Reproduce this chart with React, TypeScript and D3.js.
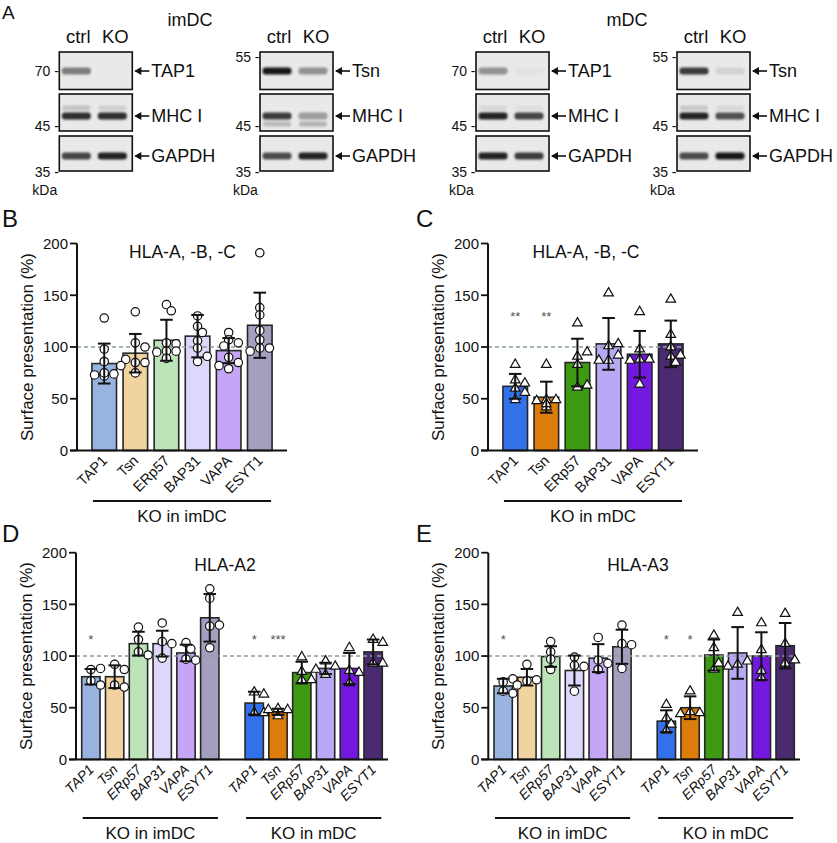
import React from "react";
import * as d3 from "d3";

const FONT = "'Liberation Sans', Arial, Helvetica, sans-serif";

// ---------- data ----------
const categories = ["TAP1", "Tsn", "ERp57", "BAP31", "VAPA", "ESYT1"];
const imdcColors = ["#99b3e1", "#f1d39f", "#bde3b8", "#ddd8fb", "#c5a5f6", "#a59fbf"];
const mdcColors = ["#3371eb", "#dc7d0b", "#3f9a13", "#b9a9f4", "#7318e0", "#4a2a71"];
const yTicks = [0, 50, 100, 150, 200];
const refLevel = 100;

// Panel B (HLA-A,-B,-C, imDC)
const bMean = [84, 94, 106.5, 110.5, 96.5, 121];
const bSD = [19.3, 18.6, 19.8, 20.5, 12.1, 31.5];
const bPoints = [
  [128, 98, 86, 74, 74, 73, 72, 75],
  [134, 104, 100, 85, 85, 88, 75, 82],
  [141, 135, 104, 103, 96, 96, 95, 89],
  [130, 120, 114, 106, 99, 86, 91],
  [114, 107, 104, 101, 90, 85, 79, 82],
  [191, 138, 131, 116, 107, 99, 99, 96],
];

// Panel C (HLA-A,-B,-C, mDC)
const cMean = [62, 51.5, 85, 103, 93, 103];
const cSD = [12, 15, 23, 25, 22.5, 22.5];
const cPoints = [
  [83, 68, 65, 60, 49, 56],
  [83, 49, 49, 48, 42, 45],
  [123, 91, 95, 83, 61, 63],
  [152, 101, 103, 87, 92, 87],
  [134, 98, 88, 88, 87, 64],
  [146, 112, 100, 91, 92, 85],
];
const cStars = ["**", "**", "", "", "", ""];

// Panel D (HLA-A2)
const dImMean = [80, 80, 112, 112, 103, 137];
const dImSD = [7.5, 11, 11.5, 12.5, 8, 23];
const dImPoints = [
  [87, 88, 76, 72],
  [92, 87, 72, 70],
  [128, 116, 104, 101],
  [132, 114, 112, 98],
  [113, 107, 97, 96],
  [165, 156, 129, 130, 108],
];
const dMMean = [54.5, 46, 84, 88, 88, 104];
const dMSD = [11, 3, 10.5, 5.5, 15, 12];
const dMPoints = [
  [65, 63, 45, 45],
  [49, 48, 48, 42],
  [99, 85, 77, 77],
  [95, 90, 82, 87],
  [108, 86, 74, 84],
  [116, 113, 93, 93],
];
const dImStars = ["*", "", "", "", "", ""];
const dMStars = ["*", "***", "", "", "", ""];

// Panel E (HLA-A3)
const eImMean = [71, 79.5, 99.5, 86, 98, 109];
const eImSD = [7, 8, 10, 14.5, 13.5, 16.5];
const eImPoints = [
  [66, 75, 78, 64],
  [92, 76, 77, 72],
  [114, 104, 97, 87],
  [99, 91, 90, 66],
  [118, 96, 93, 87],
  [130, 112, 111, 88],
];
const eMMean = [37, 50, 101, 103, 100, 110];
const eMSD = [10.5, 11, 15, 25, 23, 22];
const eMPoints = [
  [53, 40, 34, 28],
  [66, 46, 45, 44],
  [120, 108, 87, 93],
  [142, 92, 95, 90],
  [132, 106, 79, 86],
  [141, 112, 93, 96],
];
const eImStars = ["*", "", "", "", "", ""];
const eMStars = ["*", "*", "", "", "", ""];

// Panel A (western blots): darkness of each band [ctrl, KO] per row
const blotTargets = ["TAP1", "Tsn", "TAP1", "Tsn"];
const blotRowNames = ["", "MHC I", "GAPDH"];
const blotTopMarker = ["70", "55", "70", "55"];
const blotBands = [
  [[0.5, 0], [0.85, 0.85], [0.75, 0.9]],
  [[0.97, 0.4], [0.8, 0.35], [0.72, 0.9]],
  [[0.4, 0.03], [0.9, 0.75], [0.92, 0.78]],
  [[0.8, 0.1], [0.9, 0.7], [0.72, 0.97]],
];
const blotFaint = [
  [0.18, 0.12, -1],
  [0.22, 0.25, 1],
  [0.08, 0.05, -1],
  [0.15, 0.08, -1],
];
const blotCell = ["imDC", "mDC"];

// ---------- helpers ----------
function swarm(vals: number[], cx: number, y: (v: number) => number, r: number) {
  const placed: { x: number; y: number }[] = [];
  const order = [0, 1, -1, 2, -2, 3, -3];
  vals.forEach((v) => {
    const py = y(v);
    let px = cx;
    for (const k of order) {
      const cand = cx + k * r * 1.15;
      const ok = placed.every((p) => (p.x - cand) ** 2 + (p.y - py) ** 2 >= (2 * r * 0.85) ** 2);
      if (ok) {
        px = cand;
        break;
      }
    }
    placed.push({ x: px, y: py });
  });
  return placed;
}

const triPath = d3.symbol().type(d3.symbolTriangle).size(40)() as string;

type Group = {
  key: string;
  means: number[];
  sds: number[];
  points: number[][];
  colors: string[];
  marker: "circle" | "triangle";
  stars?: string[];
  label: string;
};

function BarPanel(props: {
  x0: number;
  x1: number;
  yTop: number;
  yBot: number;
  groups: Group[];
  title: string;
  titleX: number;
  titleY: number;
  yLabelX: number;
  starValue: number;
  italic: boolean;
  labelSize: number;
}) {
  const { x0, x1, yTop, yBot, groups, title, titleX, titleY, yLabelX, starValue, italic, labelSize } = props;
  const two = groups.length > 1;
  const y = d3.scaleLinear().domain([0, 200]).range([yBot, yTop]);
  const outer = d3
    .scaleBand<string>()
    .domain(groups.map((g) => g.key))
    .range([x0, x1])
    .paddingInner(two ? 0.16 : 0)
    .paddingOuter(two ? 0.035 : 0);
  const inner = d3
    .scaleBand<string>()
    .domain(categories)
    .range([0, outer.bandwidth()])
    .paddingInner(two ? 0.23 : 0.21)
    .paddingOuter(two ? 0 : 0.48);
  const bw = inner.bandwidth();
  const lastGroup = groups[groups.length - 1];
  const dashEnd = (outer(lastGroup.key) as number) + (inner(categories[5]) as number) + bw;
  const lineY = yBot + (two ? 58.6 : 50.5);
  return (
    <g fontFamily={FONT}>
      {groups.map((g) =>
        categories.map((c, i) => {
          const bx = (outer(g.key) as number) + (inner(c) as number);
          return (
            <rect
              key={g.key + c}
              x={bx}
              y={y(g.means[i])}
              width={bw}
              height={yBot - y(g.means[i])}
              fill={g.colors[i]}
              stroke="#262626"
              strokeWidth={1.6}
            />
          );
        })
      )}
      <line x1={x0} x2={dashEnd} y1={y(refLevel)} y2={y(refLevel)} stroke="#86a096" strokeWidth={1.4} strokeDasharray="4,3" />
      {groups.map((g) =>
        categories.map((c, i) => {
          const cx = (outer(g.key) as number) + (inner(c) as number) + bw / 2;
          const pts = swarm(g.points[i], cx, y, 4.2);
          return pts.map((p, j) =>
            g.marker === "circle" ? (
              <circle key={g.key + c + j} cx={p.x} cy={p.y} r={4.2} fill="#fff" stroke="#111" strokeWidth={1.2} />
            ) : (
              <path key={g.key + c + j} d={triPath} transform={`translate(${p.x},${p.y})`} fill="#fff" stroke="#111" strokeWidth={1.2} />
            )
          );
        })
      )}
      {groups.map((g) =>
        categories.map((c, i) => {
          const cx = (outer(g.key) as number) + (inner(c) as number) + bw / 2;
          const hi = y(g.means[i] + g.sds[i]);
          const lo = y(g.means[i] - g.sds[i]);
          const cw = 6.3;
          return (
            <g key={g.key + c + "e"} stroke="#111" strokeWidth={2}>
              <line x1={cx} x2={cx} y1={hi} y2={lo} />
              <line x1={cx - cw} x2={cx + cw} y1={hi} y2={hi} />
              <line x1={cx - cw} x2={cx + cw} y1={lo} y2={lo} />
            </g>
          );
        })
      )}
      {groups.map((g) =>
        (g.stars || []).map((s, i) =>
          s ? (
            <text
              key={g.key + "s" + i}
              x={(outer(g.key) as number) + (inner(categories[i]) as number) + bw / 2}
              y={y(starValue) + 6}
              textAnchor="middle"
              fontSize={13}
              fill="#555"
            >
              {s}
            </text>
          ) : null
        )
      )}
      <line x1={x0} x2={x0} y1={yTop} y2={yBot} stroke="#111" strokeWidth={2} />
      <line x1={x0 - 7} x2={x1} y1={yBot} y2={yBot} stroke="#111" strokeWidth={2} />
      {yTicks.map((t) => (
        <g key={t}>
          <line x1={x0 - 7} x2={x0} y1={y(t)} y2={y(t)} stroke="#111" strokeWidth={1.8} />
          <text x={x0 - 9} y={y(t)} dy="0.35em" textAnchor="end" fontSize={15} fill="#111">
            {t}
          </text>
        </g>
      ))}
      <text
        transform={`translate(${yLabelX},${(yTop + yBot) / 2}) rotate(-90)`}
        textAnchor="middle"
        fontSize={17}
        fill="#111"
      >
        Surface presentation (%)
      </text>
      <text x={titleX} y={titleY} textAnchor="middle" fontSize={17.5} fill="#111">
        {title}
      </text>
      {groups.map((g) =>
        categories.map((c) => {
          const cx = (outer(g.key) as number) + (inner(c) as number) + bw / 2;
          return (
            <text
              key={g.key + c + "l"}
              transform={`translate(${cx + 4},${yBot + 11}) rotate(-45)`}
              textAnchor="end"
              fontSize={labelSize}
              fontStyle={italic ? "italic" : "normal"}
              fill="#111"
            >
              {c}
            </text>
          );
        })
      )}
      {groups.map((g) => {
        const gx = outer(g.key) as number;
        const s = gx + (inner(categories[0]) as number) + 1;
        const e = gx + (inner(categories[5]) as number) + bw - 1;
        return (
          <g key={g.key + "gl"}>
            <line x1={s} x2={e} y1={lineY} y2={lineY} stroke="#111" strokeWidth={1.8} />
            <text x={(s + e) / 2} y={lineY + 21} textAnchor="middle" fontSize={17} fill="#111">
              {g.label}
            </text>
          </g>
        );
      })}
    </g>
  );
}

function Blot(props: { idx: number; left: number }) {
  const { idx, left } = props;
  const w = 73;
  const rowTop = [52, 94, 136];
  const rowH = [37.5, 37, 35];
  const bandY = [71, 116, 156];
  const lanes = [left + 17, left + 53];
  const shade = d3.interpolateRgb("#e9e9e9", "#0e0e0e");
  const names = [blotTargets[idx], blotRowNames[1], blotRowNames[2]];
  const faint = blotFaint[idx];
  return (
    <g fontFamily={FONT}>
      <text x={left + 19} y={43} textAnchor="middle" fontSize={18.5} fill="#111">
        ctrl
      </text>
      <text x={left + 56} y={43} textAnchor="middle" fontSize={18.5} fill="#111">
        KO
      </text>
      {rowTop.map((t, r) => (
        <g key={r}>
          <rect x={left} y={t} width={w} height={rowH[r]} fill="#e9e9e9" />
          {r === 1 &&
            lanes.map((lx, l) => (
              <rect
                key={"f" + l}
                x={lx - 14}
                y={bandY[1] + faint[2] * 8 - 2.5}
                width={28}
                height={5}
                rx={2}
                fill={shade(faint[l])}
                filter="url(#blur)"
              />
            ))}
          {lanes.map((lx, l) => (
            <rect
              key={l}
              x={lx - 14.5}
              y={bandY[r] - 3.5}
              width={29}
              height={7}
              rx={3}
              fill={shade(blotBands[idx][r][l])}
              filter="url(#blur)"
            />
          ))}
          <rect x={left} y={t} width={w} height={rowH[r]} fill="none" stroke="#111" strokeWidth={1.6} />
          <line x1={left + w + 3} x2={left + w + 17} y1={bandY[r]} y2={bandY[r]} stroke="#111" strokeWidth={1.6} />
          <path
            d={`M${left + w + 2},${bandY[r]} L${left + w + 9},${bandY[r] - 4} L${left + w + 9},${bandY[r] + 4} Z`}
            fill="#111"
          />
          <text x={left + w + 19} y={bandY[r]} dy="0.36em" fontSize={18} fill="#111">
            {names[r]}
          </text>
        </g>
      ))}
      {blotTopMarker[idx] === "70" ? (
        <text x={left - 0.5} y={bandY[0]} dy="0.36em" textAnchor="end" fontSize={14} fill="#111">
          70 -
        </text>
      ) : (
        <text x={left - 0.5} y={57} dy="0.36em" textAnchor="end" fontSize={14} fill="#111">
          55 -
        </text>
      )}
      <text x={left - 0.5} y={126} dy="0.36em" textAnchor="end" fontSize={14} fill="#111">
        45 -
      </text>
      <text x={left - 0.5} y={172} dy="0.36em" textAnchor="end" fontSize={14} fill="#111">
        35 -
      </text>
      <text x={left - 27} y={195} fontSize={14} fill="#111">
        kDa
      </text>
    </g>
  );
}

export default function App() {
  const blotLefts = [59.3, 260, 476, 677];
  return (
    <svg
      width={837}
      height={843}
      style={{ position: "absolute", left: 0, top: 0, background: "#fff" }}
      fontFamily={FONT}
    >
      <defs>
        <filter id="blur" x="-30%" y="-80%" width="160%" height="260%">
          <feGaussianBlur stdDeviation="1.1" />
        </filter>
      </defs>
      <rect width={837} height={843} fill="#fff" />
      <text x={2} y={19} fontSize={19} fill="#111">A</text>
      <text x={2} y={227} fontSize={24} fill="#111">B</text>
      <text x={416} y={227} fontSize={24} fill="#111">C</text>
      <text x={2} y={542} fontSize={24} fill="#111">D</text>
      <text x={416} y={542} fontSize={24} fill="#111">E</text>

      <text x={190} y={26} textAnchor="middle" fontSize={18} fill="#111">{blotCell[0]}</text>
      <text x={627} y={26} textAnchor="middle" fontSize={18} fill="#111">{blotCell[1]}</text>
      {blotLefts.map((l, i) => (
        <Blot key={i} idx={i} left={l} />
      ))}

      <BarPanel
        x0={77}
        x1={287}
        yTop={243.5}
        yBot={450.5}
        groups={[
          { key: "im", means: bMean, sds: bSD, points: bPoints, colors: imdcColors, marker: "circle", label: "KO in imDC" },
        ]}
        title="HLA-A, -B, -C"
        titleX={182.5}
        titleY={257.5}
        yLabelX={33}
        starValue={131}
        italic={false}
        labelSize={14.5}
      />
      <BarPanel
        x0={488}
        x1={698}
        yTop={243.5}
        yBot={450.5}
        groups={[
          { key: "m", means: cMean, sds: cSD, points: cPoints, colors: mdcColors, marker: "triangle", stars: cStars, label: "KO in mDC" },
        ]}
        title="HLA-A, -B, -C"
        titleX={586}
        titleY={257.5}
        yLabelX={444}
        starValue={131}
        italic={false}
        labelSize={14.5}
      />
      <BarPanel
        x0={76}
        x1={388}
        yTop={552.7}
        yBot={759.4}
        groups={[
          { key: "im", means: dImMean, sds: dImSD, points: dImPoints, colors: imdcColors, marker: "circle", stars: dImStars, label: "KO in imDC" },
          { key: "m", means: dMMean, sds: dMSD, points: dMPoints, colors: mdcColors, marker: "triangle", stars: dMStars, label: "KO in mDC" },
        ]}
        title="HLA-A2"
        titleX={225}
        titleY={570.5}
        yLabelX={32}
        starValue={117}
        italic={true}
        labelSize={14}
      />
      <BarPanel
        x0={488.3}
        x1={800}
        yTop={552.7}
        yBot={759.4}
        groups={[
          { key: "im", means: eImMean, sds: eImSD, points: eImPoints, colors: imdcColors, marker: "circle", stars: eImStars, label: "KO in imDC" },
          { key: "m", means: eMMean, sds: eMSD, points: eMPoints, colors: mdcColors, marker: "triangle", stars: eMStars, label: "KO in mDC" },
        ]}
        title="HLA-A3"
        titleX={638}
        titleY={570.5}
        yLabelX={444}
        starValue={117}
        italic={true}
        labelSize={14}
      />
    </svg>
  );
}
